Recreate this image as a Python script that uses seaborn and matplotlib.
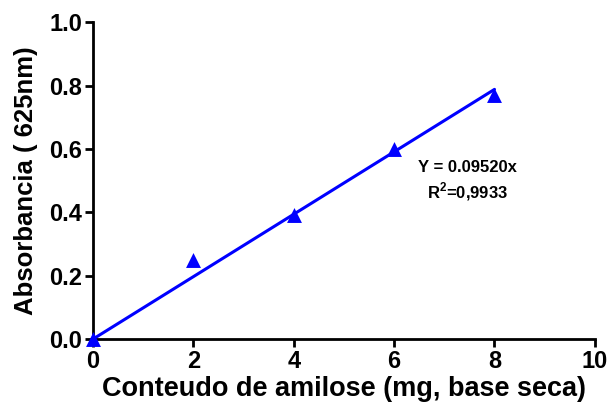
import matplotlib
matplotlib.use("Agg")
import matplotlib.pyplot as plt
import seaborn as sns
import pandas as pd

x_vals = [0, 2, 4, 6, 8]
y_vals = [0.0, 0.25, 0.39, 0.60, 0.77]
fit_x = [0, 8]
fit_y = [0.0, 0.788]
x_ticks = [0, 2, 4, 6, 8, 10]
y_ticks = [0.0, 0.2, 0.4, 0.6, 0.8, 1.0]
eq_text = "Y = 0.09520x"
r2_text = "R$^{\\mathbf{2}}$=0,9933"

sns.set_style("ticks")
plt.rcParams['font.family'] = ['Liberation Sans', 'DejaVu Sans']
plt.rcParams['font.weight'] = 'bold'
plt.rcParams['text.color'] = 'black'
plt.rcParams['axes.labelcolor'] = 'black'
plt.rcParams['xtick.color'] = 'black'
plt.rcParams['ytick.color'] = 'black'
plt.rcParams['mathtext.fontset'] = 'custom'
plt.rcParams['mathtext.bf'] = 'Liberation Sans:bold'
plt.rcParams['mathtext.rm'] = 'Liberation Sans:bold'

fig = plt.figure(figsize=(6.12, 4.11), dpi=100)
ax = fig.add_axes([0.152, 0.175, 0.820, 0.771])

df = pd.DataFrame({"x": x_vals, "y": y_vals})
fit = pd.DataFrame({"x": fit_x, "y": fit_y})
sns.lineplot(data=fit, x="x", y="y", ax=ax, color="#0000ff", linewidth=2.2)
sns.scatterplot(data=df, x="x", y="y", ax=ax, marker="^", color="#0000ff", s=115,
                edgecolor="#0000ff", linewidth=0, clip_on=False, zorder=5)

ax.set_xlim(0, 10)
ax.set_ylim(0, 1.0)
ax.set_xticks(x_ticks)
ax.set_xticklabels([str(t) for t in x_ticks])
ax.set_yticks(y_ticks)
ax.set_yticklabels([f"{t:.1f}" for t in y_ticks])
ax.tick_params(axis='both', labelsize=17, width=2, length=6, direction='out', pad=2,
               colors='black')
for lab in ax.get_xticklabels() + ax.get_yticklabels():
    lab.set_fontweight('bold')
for side in ['top', 'right']:
    ax.spines[side].set_visible(False)
for side in ['left', 'bottom']:
    ax.spines[side].set_linewidth(2)
    ax.spines[side].set_color('black')

ax.set_xlabel("Conteudo de amilose (mg, base seca)", fontsize=19.5, fontweight='bold',
              labelpad=2, color='black')
ax.set_ylabel("Absorbancia ( 625nm)", fontsize=18.5, fontweight='bold', labelpad=8,
              color='black')

ax.text(7.46, 0.542, eq_text, ha='center', va='center', fontsize=12, fontweight='bold')
ax.text(7.46, 0.464, r2_text, ha='center', va='center', fontsize=12, fontweight='bold')

fig.savefig("out.png", dpi=100)
